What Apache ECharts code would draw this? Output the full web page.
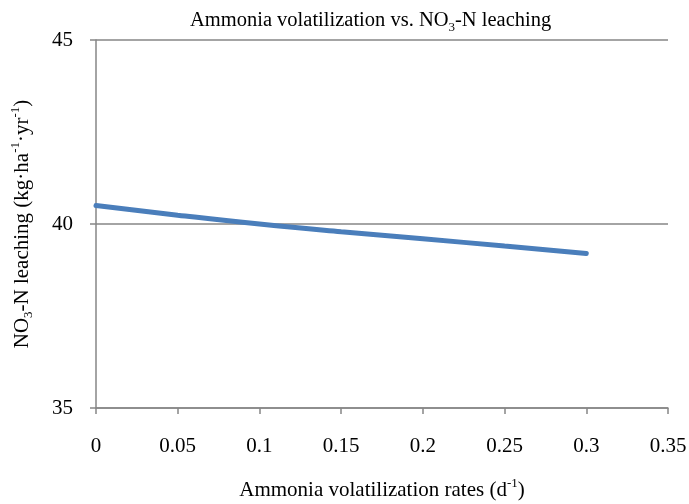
<!DOCTYPE html>
<html>
<head>
<meta charset="utf-8">
<script src="https://cdn.jsdelivr.net/npm/echarts@6/dist/echarts.min.js"></script>
<style>html,body{margin:0;padding:0;background:#fff}#c{width:689px;height:504px}</style>
</head>
<body>
<div id="c"></div>
<script>
var xValues = [0, 0.05, 0.1, 0.15, 0.2, 0.25, 0.3];
var leaching = [40.5, 40.24, 40.0, 39.79, 39.6, 39.4, 39.2];
var xTicks = [0, 0.05, 0.1, 0.15, 0.2, 0.25, 0.3, 0.35];
var yTicks = [35, 40, 45];

var font = '"Liberation Serif", "Times New Roman", serif';
var chart = echarts.init(document.getElementById('c'));
var data = xValues.map(function (x, i) { return [x, leaching[i]]; });
var subRich = {
  sub: { fontSize: 13, verticalAlign: 'bottom', lineHeight: 26, fontFamily: font, color: '#000' },
  sup: { fontSize: 13, verticalAlign: 'top', lineHeight: 26, fontFamily: font, color: '#000' }
};
chart.setOption({
  animation: false,
  backgroundColor: '#fff',
  title: {
    text: 'Ammonia volatilization vs. NO{sub|3}-N leaching',
    left: 185,
    top: 3,
    textStyle: { fontFamily: font, fontSize: 20.5, fontWeight: 'normal', color: '#000', rich: subRich }
  },
  grid: { left: 96, right: 21, top: 40, bottom: 96, containLabel: false, outerBoundsMode: 'none' },
  xAxis: {
    type: 'value',
    min: xTicks[0],
    max: xTicks[xTicks.length - 1],
    interval: 0.05,
    name: 'Ammonia volatilization rates (d{sup|-1})',
    nameLocation: 'middle',
    nameGap: 69,
    nameTextStyle: { fontFamily: font, fontSize: 21, color: '#000', rich: subRich },
    axisLine: { show: true, lineStyle: { color: '#868686', width: 1.5 } },
    axisTick: { show: true, length: 6, lineStyle: { color: '#868686', width: 1.5 } },
    axisLabel: { fontFamily: font, fontSize: 21, color: '#000', margin: 28 },
    splitLine: { show: false }
  },
  yAxis: {
    type: 'value',
    min: yTicks[0],
    max: yTicks[yTicks.length - 1],
    interval: 5,
    name: 'NO{sub|3}-N leaching (kg·ha{sup|-1}·yr{sup|-1})',
    nameLocation: 'middle',
    nameGap: 61,
    nameTextStyle: { fontFamily: font, fontSize: 21, color: '#000', rich: subRich },
    axisLine: { show: true, lineStyle: { color: '#868686', width: 1.5 } },
    axisTick: { show: true, length: 6, lineStyle: { color: '#868686', width: 1.5 } },
    axisLabel: { fontFamily: font, fontSize: 21, color: '#000', margin: 23 },
    splitLine: { show: true, lineStyle: { color: '#868686', width: 1.5 } }
  },
  series: [{
    type: 'line',
    data: data,
    smooth: true,
    symbol: 'none',
    lineStyle: { color: '#4a7ebb', width: 5, cap: 'round' }
  }]
});
</script>
</body>
</html>
